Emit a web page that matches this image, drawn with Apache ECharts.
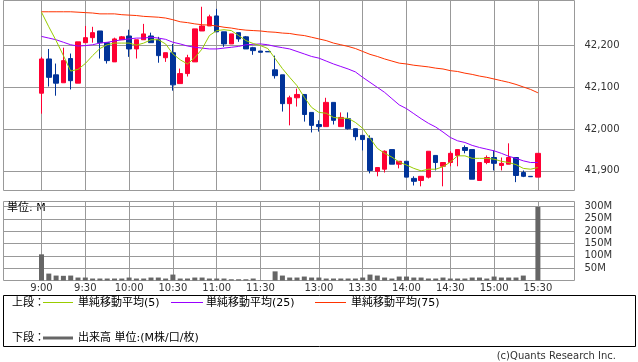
<!DOCTYPE html>
<html><head><meta charset="utf-8">
<script src="https://cdn.jsdelivr.net/npm/echarts@6/dist/echarts.min.js"></script>
<style>html,body{margin:0;padding:0;background:#fff}#c{width:638px;height:362px}</style>
</head><body><div id="c"></div>
<script>
const times = ['9:00','9:05','9:10','9:15','9:20','9:25','9:30','9:35','9:40','9:45','9:50','9:55','10:00','10:05','10:10','10:15','10:20','10:25','10:30','10:35','10:40','10:45','10:50','10:55','11:00','11:05','11:10','11:15','11:20','11:25','11:30','','12:30','12:35','12:40','12:45','12:50','12:55','13:00','13:05','13:10','13:15','13:20','13:25','13:30','13:35','13:40','13:45','13:50','13:55','14:00','14:05','14:10','14:15','14:20','14:25','14:30','14:35','14:40','14:45','14:50','14:55','15:00','15:05','15:10','15:15','15:20','15:25','15:30'];
const tickLabels = ['9:00','9:30','10:00','10:30','11:00','11:30','13:00','13:30','14:00','14:30','15:00','15:30'];
const openP = [42086,42168,42130,42111,42169,42110,42207,42219,42235,42207,
  42161,42214,42223,42192,42214,42223,42214,42171,42183,42109,
  42133,42161,42235,42247,42271,42233,42204,42231,42221,42195,
  42187,42186,42142,42130,42061,42075,42083,42040,42011,42006,
  42064,42006,42025,42001,41985,41978,41899,41904,41951,41916,
  41923,41882,41877,41885,41937,41911,41920,41937,41956,41951,
  41877,41920,41932,41913,41916,41932,41896,41887,41885];
const closeP = [42168,42124,42110,42164,42116,42209,42219,42231,42207,42164,
  42216,42221,42192,42214,42228,42207,42176,42183,42106,42133,
  42171,42240,42247,42269,42233,42204,42228,42216,42192,42188,
  42184,42185,42128,42061,42075,42083,42035,42009,42006,42064,
  42021,42028,42001,41982,41975,41901,41908,41947,41916,41923,
  41885,41875,41887,41947,41920,41920,41942,41951,41949,41880,
  41920,41932,41918,41918,41932,41889,41887,41886,41942];
const lowP = [42037,42102,42080,42111,42095,42110,42207,42207,42169,42157,
  42161,42214,42173,42169,42214,42207,42159,42161,42092,42109,
  42126,42161,42235,42247,42233,42197,42204,42209,42192,42178,
  42184,42185,42121,42042,42009,42054,42018,41992,41994,42006,
  42011,42006,41999,41973,41949,41894,41887,41896,41916,41906,
  41885,41865,41863,41882,41901,41863,41911,41911,41942,41880,
  41877,41916,41901,41901,41916,41873,41885,41886,41885];
const highP = [42173,42192,42157,42195,42181,42209,42247,42245,42235,42207,
  42219,42223,42238,42214,42252,42231,42221,42183,42204,42145,
  42178,42240,42293,42274,42288,42233,42228,42231,42223,42197,
  42187,42186,42176,42130,42080,42097,42083,42040,42021,42075,
  42064,42040,42040,42001,41985,41985,41908,41949,41951,41923,
  41923,41887,41887,41947,41937,41920,41947,41951,41961,41951,
  41920,41937,41949,41932,41966,41932,41901,41887,41942];
const ma5 = [42280,42245,42212,42176,42139,42143,42157,42176,42193,42202,
  42206,42206,42206,42201,42206,42214,42214,42204,42180,42166,
  42156,42171,42192,42224,42236,42238,42236,42224,42212,42205,
  42200,42193,42169,42145,42124,42104,42076,42052,42040,42038,
  42028,42026,42026,42016,42002,41978,41954,41942,41933,41921,
  41914,41906,41900,41904,41904,41910,41921,41936,41936,41930,
  41930,41930,41928,41923,41920,41915,41906,41904,41908];
const ma25 = [42222,42218,42214,42208,42202,42199,42200,42202,42206,42208,
  42211,42214,42216,42218,42218,42220,42218,42215,42208,42204,
  42199,42196,42194,42192,42192,42194,42196,42198,42202,42203,
  42204,42202,42198,42195,42192,42186,42180,42174,42170,42163,
  42156,42150,42144,42137,42124,42112,42100,42088,42073,42058,
  42049,42037,42025,42014,42005,41993,41980,41972,41968,41961,
  41956,41952,41948,41942,41935,41930,41924,41920,41920];
const ma75 = [42281,42281,42281,42281,42281,42280,42279,42278,42276,42276,
  42276,42274,42273,42272,42270,42269,42268,42266,42262,42257,
  42255,42252,42250,42249,42247,42244,42242,42239,42237,42236,
  42235,42233,42232,42230,42229,42226,42224,42220,42216,42212,
  42206,42202,42198,42193,42186,42179,42174,42168,42163,42158,
  42156,42153,42151,42149,42146,42144,42140,42138,42134,42131,
  42127,42124,42120,42116,42112,42107,42101,42095,42087];
const volume = [106,28,20,19,20,12,12,8,8,8,
  8,8,12,8,8,12,12,8,24,8,
  8,12,12,8,8,8,5,5,5,8,
  1,null,37,20,12,12,16,12,12,8,
  8,8,8,8,12,24,20,12,8,16,
  16,12,12,8,8,12,8,8,8,12,
  12,8,16,12,12,12,20,1,298];
const priceTicks = [41900,42000,42100,42200];
const volTicks = [50,100,150,200,250,300];

const FONT = '"DejaVu Sans", "Noto Sans CJK JP", sans-serif';
const cats = [''].concat(times, ['']);
const padS = arr => ['-'].concat(arr.map(v => v == null ? '-' : v), ['-']);
const candleData = ['-'].concat(times.map((t, i) => [openP[i], closeP[i], lowP[i], highP[i]]), ['-']);
const isTick = (idx, val) => tickLabels.indexOf(val) >= 0;

const chart = echarts.init(document.getElementById('c'), null, {renderer: 'canvas'});
const frameY = (gi, min, max, ticks, fmt) => ({
  gridIndex: gi, type: 'value', min: min, max: max, position: 'right',
  axisLine: {show: false},
  axisTick: {show: true, length: 6, customValues: ticks, lineStyle: {color: '#999'}},
  axisLabel: {customValues: ticks, formatter: fmt, margin: 10, fontSize: 10, color: '#333', fontFamily: FONT},
  splitLine: {show: true, lineStyle: {color: '#999', width: 1}}
});
const dataX = (gi, labels) => ({
  gridIndex: gi, type: 'category', data: cats, boundaryGap: false,
  axisLine: {show: false}, axisTick: {show: false},
  axisLabel: labels ? {show: true, interval: isTick, margin: 3, fontSize: 10, color: '#333', fontFamily: FONT} : {show: false},
  splitLine: {show: true, interval: isTick, lineStyle: {color: '#999', width: 1}}
});
chart.setOption({
  animation: false,
  backgroundColor: '#fff',
  grid: [
    {left: 3.5, top: 0.5, width: 571, height: 190, show: true, borderColor: '#999', borderWidth: 1},
    {left: 3.5, top: 201.5, width: 571, height: 79, show: true, borderColor: '#999', borderWidth: 1},
    {left: 34.2, top: 0.5, width: 511, height: 190},
    {left: 34.2, top: 201.5, width: 511, height: 79}
  ],
  xAxis: [
    {gridIndex: 0, type: 'value', show: false, min: 0, max: 1},
    {gridIndex: 1, type: 'value', show: false, min: 0, max: 1},
    dataX(2, false),
    dataX(3, true)
  ],
  yAxis: [
    frameY(0, 41853, 42308, priceTicks, v => v.toLocaleString('en-US')),
    frameY(1, 0, 320, volTicks, v => v + 'M'),
    {gridIndex: 2, type: 'value', min: 41853, max: 42308, show: false},
    {gridIndex: 3, type: 'value', min: 0, max: 320, show: false}
  ],
  series: [
    {type: 'line', name: '単純移動平均(75)', xAxisIndex: 2, yAxisIndex: 2, data: padS(ma75), showSymbol: false, lineStyle: {color: '#ff3300', width: 1}, itemStyle: {color: '#ff3300'}},
    {type: 'line', name: '単純移動平均(25)', xAxisIndex: 2, yAxisIndex: 2, data: padS(ma25), showSymbol: false, lineStyle: {color: '#9900ff', width: 1}, itemStyle: {color: '#9900ff'}},
    {type: 'line', name: '単純移動平均(5)', xAxisIndex: 2, yAxisIndex: 2, data: padS(ma5), showSymbol: false, lineStyle: {color: '#99cc00', width: 1}, itemStyle: {color: '#99cc00'}},
    {type: 'candlestick', name: '価格', xAxisIndex: 2, yAxisIndex: 2, data: candleData, barWidth: 5,
      itemStyle: {color: '#ff0033', color0: '#003399', borderColor: '#ff0033', borderColor0: '#003399', borderWidth: 1}},
    {type: 'bar', name: '出来高', xAxisIndex: 3, yAxisIndex: 3, data: padS(volume), barWidth: 5, itemStyle: {color: '#666666'}}
  ],
  graphic: [
    {type: 'text', x: 7, y: 208, style: {text: '単位: M', font: '11px ' + FONT, fill: '#000', verticalAlign: 'middle'}},
    {type: 'rect', shape: {x: 3.5, y: 295.5, width: 632, height: 51}, style: {fill: 'none', stroke: '#000', lineWidth: 1}},
    {type: 'text', x: 12, y: 303, style: {text: '上段：', font: '11px ' + FONT, fill: '#000', verticalAlign: 'middle'}},
    {type: 'line', shape: {x1: 43, y1: 302.5, x2: 73, y2: 302.5}, style: {stroke: '#99cc00', lineWidth: 1}},
    {type: 'text', x: 78, y: 303, style: {text: '単純移動平均(5)', font: '11px ' + FONT, fill: '#000', verticalAlign: 'middle'}},
    {type: 'line', shape: {x1: 171, y1: 302.5, x2: 203, y2: 302.5}, style: {stroke: '#9900ff', lineWidth: 1}},
    {type: 'text', x: 206, y: 303, style: {text: '単純移動平均(25)', font: '11px ' + FONT, fill: '#000', verticalAlign: 'middle'}},
    {type: 'line', shape: {x1: 315, y1: 302.5, x2: 346, y2: 302.5}, style: {stroke: '#ff3300', lineWidth: 1}},
    {type: 'text', x: 351, y: 303, style: {text: '単純移動平均(75)', font: '11px ' + FONT, fill: '#000', verticalAlign: 'middle'}},
    {type: 'text', x: 12, y: 338, style: {text: '下段：', font: '11px ' + FONT, fill: '#000', verticalAlign: 'middle'}},
    {type: 'rect', shape: {x: 43, y: 336.5, width: 30, height: 3}, style: {fill: '#666666'}},
    {type: 'text', x: 78, y: 338, style: {text: '出来高 単位:(M株/口/枚)', font: '11px ' + FONT, fill: '#000', verticalAlign: 'middle'}},
    {type: 'text', x: 616, y: 356, style: {text: '(c)Quants Research Inc.', font: '10px ' + FONT, fill: '#333', align: 'right', verticalAlign: 'middle'}}
  ]
});
</script></body></html>
